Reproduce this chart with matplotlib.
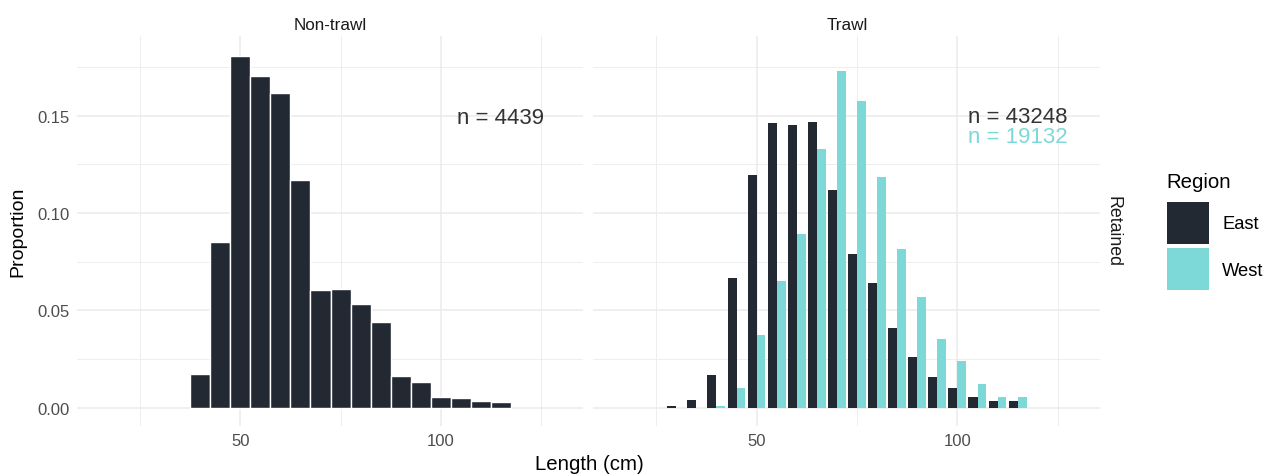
import numpy as np
import matplotlib
matplotlib.use("Agg")
import matplotlib.pyplot as plt
from matplotlib.patches import Rectangle

plt.rcParams['font.family'] = ['Liberation Sans', 'DejaVu Sans']

# length bins (cm, bin centres) and proportion retained
nontrawl_bins = [40, 45, 50, 55, 60, 65, 70, 75, 80, 85, 90, 95, 100, 105, 110, 115]
nontrawl_prop = [0.0173, 0.0852, 0.1805, 0.1705, 0.1615, 0.1172, 0.0605, 0.0609,
                 0.0531, 0.0442, 0.0162, 0.0131, 0.0052, 0.0050, 0.0036, 0.0026]

trawl_east_bins = [30, 35, 40, 45, 50, 55, 60, 65, 70, 75, 80, 85, 90, 95, 100, 105, 110, 115]
trawl_east_prop = [0.0009, 0.0040, 0.0169, 0.0664, 0.1197, 0.1464, 0.1450, 0.1470,
                   0.1117, 0.0788, 0.0640, 0.0409, 0.0262, 0.0155, 0.0098, 0.0055,
                   0.0034, 0.0031]

trawl_west_bins = [40, 45, 50, 55, 60, 65, 70, 75, 80, 85, 90, 95, 100, 105, 110, 115]
trawl_west_prop = [0.0007, 0.0102, 0.0371, 0.0650, 0.0891, 0.1331, 0.1728, 0.1576,
                   0.1186, 0.0814, 0.0566, 0.0353, 0.0241, 0.0122, 0.0052, 0.0052]

n_nontrawl = "n = 4439"
n_trawl_east = "n = 43248"
n_trawl_west = "n = 19132"

east_col = "#232933"
west_col = "#7cd9d7"
grid_col = "#ebebeb"

fig = plt.figure(figsize=(12.74, 4.77), dpi=100)
ax1 = fig.add_axes([77/1274, 50/477, 506/1274, 390/477])
ax2 = fig.add_axes([593/1274, 50/477, 507/1274, 390/477])

for ax in (ax1, ax2):
    ax.set_xlim(9.25, 135.5)
    ax.set_ylim(-0.0095, 0.191)
    ax.set_xticks([50, 100])
    ax.set_xticks([25, 75, 125], minor=True)
    ax.set_yticks([0, 0.05, 0.10, 0.15])
    ax.set_yticks([0.025, 0.075, 0.125, 0.175], minor=True)
    ax.grid(True, which='major', color=grid_col, lw=1.1)
    ax.grid(True, which='minor', color=grid_col, lw=0.6)
    ax.set_axisbelow(True)
    for s in ax.spines.values():
        s.set_visible(False)
    ax.tick_params(which='both', length=0, labelsize=12, labelcolor='#4d4d4d', pad=5)

ax1.set_yticklabels(["0.00", "0.05", "0.10", "0.15"])
ax2.set_yticklabels([])
ax1.set_xticklabels(["50", "100"])
ax2.set_xticklabels(["50", "100"])

# non-trawl: one series, full bin width
ax1.bar(nontrawl_bins, nontrawl_prop, width=5, color=east_col, edgecolor='white', lw=1)

# trawl: dodged by region
ax2.bar(np.array(trawl_east_bins) - 1.125, trawl_east_prop, width=2.25, color=east_col, lw=0)
ax2.bar(np.array(trawl_west_bins) + 1.1, trawl_west_prop, width=2.2, color=west_col, lw=0)

ax1.text(115, 0.149, n_nontrawl, ha='center', va='center', fontsize=16, color='#333333')
ax2.text(115, 0.1495, n_trawl_east, ha='center', va='center', fontsize=16, color='#333333')
ax2.text(115, 0.1395, n_trawl_west, ha='center', va='center', fontsize=16, color=west_col)

# facet strips
fig.text(330/1274, 1 - 25/477, "Non-trawl", ha='center', va='center', fontsize=12.3, color='#1a1a1a')
fig.text(847/1274, 1 - 25/477, "Trawl", ha='center', va='center', fontsize=12.3, color='#1a1a1a')
fig.text(1113/1274, 1 - 232/477, "Retained", rotation=-90, ha='center', va='center',
         fontsize=12.8, color='#1a1a1a')

fig.text(18/1274, 1 - 232/477, "Proportion", rotation=90, ha='center', va='center',
         fontsize=14, color='black')
fig.text(589/1274, 1 - 465/477, "Length (cm)", ha='center', va='center',
         fontsize=14.7, color='black')

# legend
fig.text(1166/1274, 1 - 183/477, "Region", ha='left', va='center', fontsize=14.7)
for label, col, top in [("East", east_col, 203), ("West", west_col, 249)]:
    fig.patches.append(Rectangle((1167/1274, 1 - (top + 42)/477), 42/1274, 42/477,
                                 transform=fig.transFigure, color=col, lw=0))
    fig.text(1222/1274, 1 - (top + 22)/477, label, ha='left', va='center', fontsize=13.2)

fig.savefig("out.png", dpi=100, facecolor='white')
